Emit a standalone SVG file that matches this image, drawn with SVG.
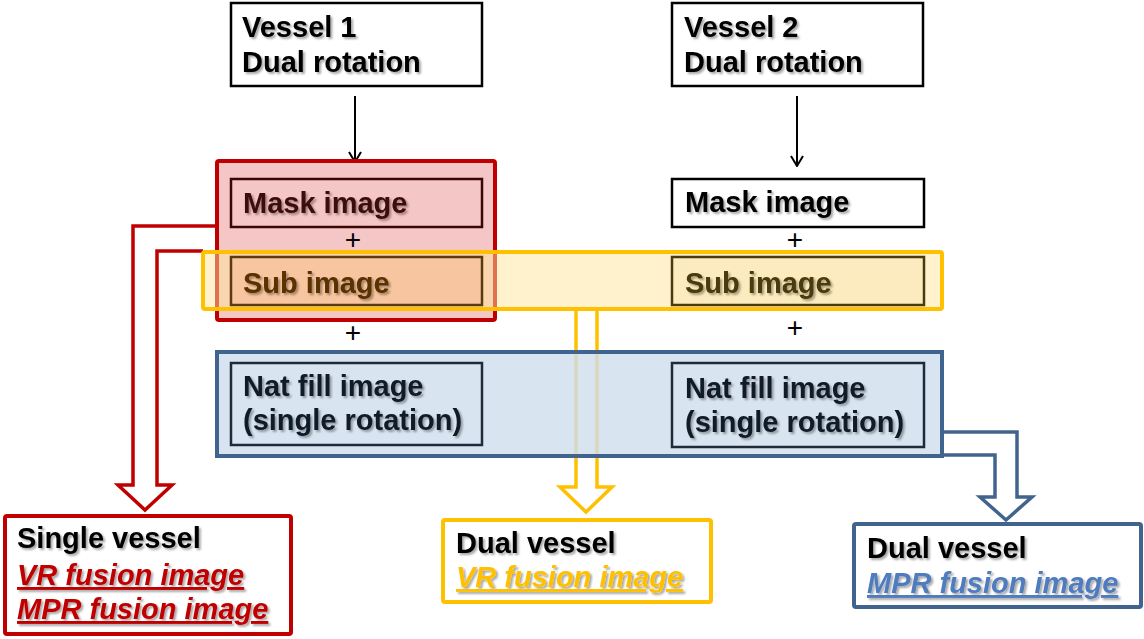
<svg xmlns="http://www.w3.org/2000/svg" width="1144" height="639" viewBox="0 0 1144 639">
<defs>
<filter id="sh" x="-10%" y="-20%" width="130%" height="160%">
<feDropShadow dx="2" dy="2" stdDeviation="1" flood-color="#000" flood-opacity="0.35"/>
</filter>
<marker id="ah" viewBox="0 0 12 14" refX="11" refY="7" markerWidth="12" markerHeight="14" markerUnits="userSpaceOnUse" orient="auto">
<path d="M1,1 L11,7 L1,13" fill="none" stroke="#000" stroke-width="2"/>
</marker>
</defs>
<style>
text{font-family:"Liberation Sans",Arial,sans-serif;font-weight:bold;font-size:29px;filter:url(#sh)}
.plus{font-weight:normal;font-size:28px;filter:none;text-anchor:middle}
.it{font-style:italic;text-decoration:underline}
.bx{fill:#fff;stroke:#000;stroke-width:2.5}
.conn{fill:none;stroke-width:3.5;stroke-linejoin:miter}
</style>
<rect width="1144" height="639" fill="#fff"/>

<g id="connectors">
<line x1="355" y1="96" x2="355" y2="162" stroke="#000" stroke-width="2" marker-end="url(#ah)"/>
<line x1="797" y1="96" x2="797" y2="166" stroke="#000" stroke-width="2" marker-end="url(#ah)"/>
<path class="conn" stroke="#C00000" d="M217,226 H133 V485 H118 L145,510 L172,485 H157 V251 H203"/>
<path class="conn" stroke="#FFC000" d="M576,310 V487 H560 L586,512 L612,487 H597 V310"/>
<path class="conn" stroke="#41648F" d="M942,432 H1017 V497 H1032 L1006,520 L980,497 H995 V455 H942"/>
</g>

<g id="vessel1">
<rect class="bx" x="231" y="3" width="251" height="83"/>
<text x="242" y="37">Vessel 1</text>
<text x="242" y="72">Dual rotation</text>
</g>
<g id="vessel2">
<rect class="bx" x="672" y="3" width="251" height="83"/>
<text x="684" y="37">Vessel 2</text>
<text x="684" y="72">Dual rotation</text>
</g>

<g id="vessel1-group">
<rect x="217" y="161" width="278" height="159" rx="2" fill="#F4C6C6" stroke="#C00000" stroke-width="4"/>
</g>
<g id="sub-band">
<rect x="203" y="252" width="739" height="57" rx="2" fill="#FFE599" fill-opacity="0.5" stroke="#FFC000" stroke-width="4"/>
</g>
<g id="natfill-group">
<rect x="217" y="352" width="725" height="104" fill="#D0DDEE" fill-opacity="0.8" stroke="#41648F" stroke-width="4"/>
</g>

<g id="mask1">
<rect x="231" y="179" width="251" height="48" fill="none" stroke="#3A0606" stroke-width="2.5"/>
<text x="243" y="213" fill="#3C0A0A">Mask image</text>
</g>
<g id="plus1"><text class="plus" x="353" y="249">+</text></g>
<g id="sub1">
<rect x="231" y="257" width="251" height="48" fill="#F7C59F" stroke="#5C3A10" stroke-width="2.5"/>
<text x="243" y="293" fill="#5A3005">Sub image</text>
</g>
<g id="plus2"><text class="plus" x="353" y="342">+</text></g>
<g id="nat1">
<rect x="231" y="363" width="251" height="82" fill="none" stroke="#1F2A3A" stroke-width="2.5"/>
<text x="243" y="396" fill="#111A28">Nat fill image</text>
<text x="243" y="430" fill="#111A28">(single rotation)</text>
</g>

<g id="mask2">
<rect class="bx" x="672" y="179" width="252" height="48"/>
<text x="685" y="212">Mask image</text>
</g>
<g id="plus3"><text class="plus" x="795" y="249">+</text></g>
<g id="sub2">
<rect x="672" y="257" width="252" height="48" fill="#FCEBBE" stroke="#4A3A10" stroke-width="2.5"/>
<text x="685" y="293" fill="#4A3A08">Sub image</text>
</g>
<g id="plus4"><text class="plus" x="795" y="337">+</text></g>
<g id="nat2">
<rect x="672" y="363" width="252" height="84" fill="none" stroke="#1F2A3A" stroke-width="2.5"/>
<text x="685" y="398" fill="#111A28">Nat fill image</text>
<text x="685" y="432" fill="#111A28">(single rotation)</text>
</g>

<g id="out-single">
<rect x="5" y="516" width="286" height="118" rx="2" fill="#fff" stroke="#C00000" stroke-width="4"/>
<text x="17" y="548">Single vessel</text>
<text class="it" x="17" y="585" fill="#C00000">VR fusion image</text>
<text class="it" x="17" y="619" fill="#C00000">MPR fusion image</text>
</g>
<g id="out-dual-vr">
<rect x="443" y="520" width="268" height="82" rx="2" fill="#fff" stroke="#FFC000" stroke-width="4"/>
<text x="456" y="553">Dual vessel</text>
<text class="it" x="456" y="587" fill="#FFC000">VR fusion image</text>
</g>
<g id="out-dual-mpr">
<rect x="854" y="524" width="287" height="83" rx="2" fill="#fff" stroke="#41648F" stroke-width="4"/>
<text x="867" y="558">Dual vessel</text>
<text class="it" x="867" y="593" fill="#4F7BBE">MPR fusion image</text>
</g>
</svg>
